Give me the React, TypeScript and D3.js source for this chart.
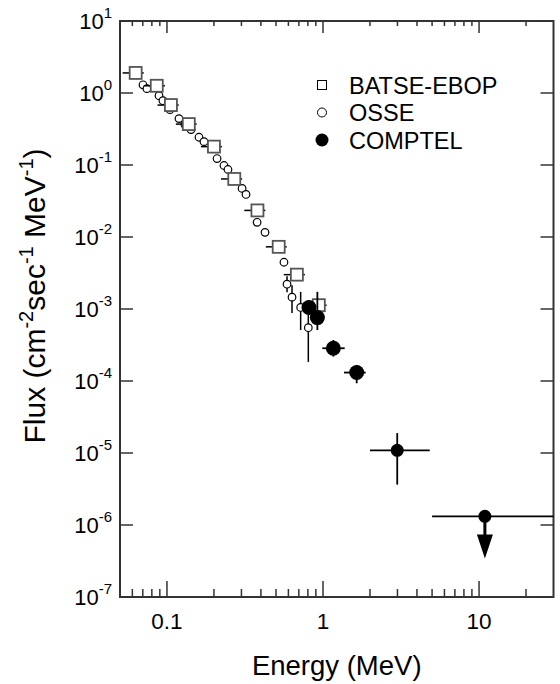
import React from 'react'
import * as d3 from 'd3'

// BATSE-EBOP (open squares), energy in MeV, flux in cm^-2 s^-1 MeV^-1
const batseE = [0.063, 0.086, 0.106, 0.138, 0.2, 0.27, 0.38, 0.52, 0.68, 0.94]
const batseF = [1.9, 1.26, 0.68, 0.37, 0.18, 0.064, 0.0234, 0.0073, 0.003, 0.00113]
const batseELo = [0.052, 0.071, 0.087, 0.114, 0.165, 0.222, 0.313, 0.43, 0.56, 0.78]
const batseEHi = [0.071, 0.097, 0.119, 0.155, 0.225, 0.303, 0.427, 0.585, 0.765, 1.055]

// OSSE (open circles)
const osseE = [0.0702, 0.0744, 0.0889, 0.0942, 0.1045, 0.1194, 0.1303, 0.1426, 0.1604, 0.1726, 0.2094,
    0.2319, 0.246, 0.303, 0.321, 0.378, 0.425, 0.562, 0.588, 0.633, 0.719, 0.805]
const osseF = [1.3, 1.15, 0.918, 0.782, 0.587, 0.441, 0.364, 0.31, 0.243, 0.211, 0.123,
    0.0984, 0.0866, 0.0473, 0.039, 0.016, 0.0116, 0.00446, 0.00221, 0.00146, 0.00105, 0.00055]
const osseFLo = [null, null, null, null, null, null, null, null, null, null, null,
    null, null, null, null, null, null, null, 0.00171, 0.000877, 0.00051, 0.000184]
const osseFHi = [null, null, null, null, null, null, null, null, null, null, null,
    null, null, null, null, null, null, null, 0.00286, 0.00214, 0.00173, 0.00133]

// COMPTEL (filled circles), last one is an upper limit
const comptelE = [0.813, 0.92, 1.165, 1.644, 2.99, 10.9]
const comptelF = [0.00105, 0.00076, 0.000285, 0.000131, 1.09e-5, 1.32e-6]
const comptelELo = [null, null, 0.99, 1.363, 2.0, 5.0]
const comptelEHi = [null, null, 1.377, 1.877, 4.83, 30]
const comptelFLo = [null, 0.00051, 0.000218, 9.3e-5, 3.64e-6, null]
const comptelFHi = [null, 0.00173, 0.000371, 0.000167, 1.89e-5, null]
const comptelUpperTip = [null, null, null, null, null, 3.43e-7]

const xTickValues = [0.1, 1, 10]
const xTickLabels = ['0.1', '1', '10']
const yExponents = [1, 0, -1, -2, -3, -4, -5, -6, -7]

const legendItems = ['BATSE-EBOP', 'OSSE', 'COMPTEL']

const FONT = 'Liberation Sans, Arial, Helvetica, sans-serif'
const AXIS = '#333'

export default function App() {
    const left = 120, right = 553.5, top = 21, bottom = 597
    const x = d3.scaleLog().domain([0.05, 30]).range([left, right])
    const y = d3.scaleLog().domain([1e-7, 10]).range([bottom, top])

    const minorX = x.ticks().filter(t => !xTickValues.some(m => Math.abs(m - t) < 1e-9) && t > 0.0501 && t < 29.9)

    return (
        <svg width={560} height={684} style={{ position: 'absolute', left: 0, top: 0, background: '#fff' }}
            fontFamily={FONT}>
            <rect x={0} y={0} width={560} height={684} fill="#fff" />

            {/* frame */}
            <rect x={left} y={top} width={right - left} height={bottom - top} fill="none" stroke={AXIS} strokeWidth={2} />

            {/* x ticks, bottom and top */}
            {xTickValues.map(t => (
                <g key={'xm' + t}>
                    <line x1={x(t)} x2={x(t)} y1={bottom} y2={bottom - 16} stroke={AXIS} strokeWidth={1.5} />
                    <line x1={x(t)} x2={x(t)} y1={top} y2={top + 12} stroke={AXIS} strokeWidth={1.5} />
                </g>
            ))}
            {minorX.map(t => (
                <g key={'xn' + t}>
                    <line x1={x(t)} x2={x(t)} y1={bottom} y2={bottom - 8} stroke={AXIS} strokeWidth={1.5} />
                    <line x1={x(t)} x2={x(t)} y1={top} y2={top + 5} stroke={AXIS} strokeWidth={1.5} />
                </g>
            ))}
            {xTickValues.map((t, i) => (
                <text key={'xl' + t} x={x(t)} y={628.5} textAnchor="middle" fontSize={22.5} fill="#000">{xTickLabels[i]}</text>
            ))}

            {/* y ticks, left and right */}
            {yExponents.map(e => {
                const yy = y(Math.pow(10, e))
                return (
                    <g key={'y' + e}>
                        <line x1={left} x2={left + 13} y1={yy} y2={yy} stroke={AXIS} strokeWidth={1.5} />
                        <line x1={right} x2={right - 13} y1={yy} y2={yy} stroke={AXIS} strokeWidth={1.5} />
                        <text x={112} y={yy + 7.5} textAnchor="end" fontSize={22} fill="#000">
                            10<tspan dy={-11} fontSize={15}>{e}</tspan>
                        </text>
                    </g>
                )
            })}

            {/* axis titles */}
            <text x={(left + right) / 2} y={675} textAnchor="middle" fontSize={27.5} fill="#000">Energy (MeV)</text>
            <text transform={`translate(45,296) rotate(-90)`} textAnchor="middle" fontSize={30} fill="#000">
                Flux (cm<tspan dy={-12} fontSize={20}>-2</tspan>
                <tspan dy={12}>sec</tspan><tspan dy={-12} fontSize={20}>-1</tspan>
                <tspan dy={12}> MeV</tspan><tspan dy={-12} fontSize={20}>-1</tspan>
                <tspan dy={12}>)</tspan>
            </text>

            {/* OSSE */}
            {osseE.map((e, i) => osseFLo[i] != null ? (
                <line key={'oe' + i} x1={x(e)} x2={x(e)} y1={y(osseFLo[i] as number)} y2={y(osseFHi[i] as number)}
                    stroke="#000" strokeWidth={1.5} />
            ) : null)}
            {osseE.map((e, i) => (
                <circle key={'o' + i} cx={x(e)} cy={y(osseF[i])} r={3.8} fill="#fff" stroke="#000" strokeWidth={1.2} />
            ))}

            {/* BATSE */}
            {batseE.map((e, i) => (
                <line key={'be' + i} x1={x(batseELo[i])} x2={x(batseEHi[i])} y1={y(batseF[i])} y2={y(batseF[i])}
                    stroke="#000" strokeWidth={1.5} />
            ))}
            {batseE.map((e, i) => (
                <rect key={'b' + i} x={x(e) - 6} y={y(batseF[i]) - 6} width={12} height={12}
                    fill="#fff" stroke="#555" strokeWidth={1.8} />
            ))}

            {/* COMPTEL */}
            {comptelE.map((e, i) => (
                <g key={'ce' + i} stroke="#000" strokeWidth={1.8}>
                    {comptelELo[i] != null && (
                        <line x1={x(comptelELo[i] as number)} x2={x(comptelEHi[i] as number)} y1={y(comptelF[i])} y2={y(comptelF[i])} />
                    )}
                    {comptelFLo[i] != null && (
                        <line x1={x(e)} x2={x(e)} y1={y(comptelFLo[i] as number)} y2={y(comptelFHi[i] as number)} />
                    )}
                    {comptelUpperTip[i] != null && (() => {
                        const tipY = y(comptelUpperTip[i] as number)
                        const cx = x(e)
                        return (
                            <g>
                                <line x1={cx} x2={cx} y1={y(comptelF[i])} y2={tipY - 20} strokeWidth={3} />
                                <path d={`M${cx - 8},${tipY - 24}L${cx + 8},${tipY - 24}L${cx},${tipY}Z`} fill="#000" stroke="none" />
                            </g>
                        )
                    })()}
                </g>
            ))}
            {comptelE.map((e, i) => (
                <circle key={'c' + i} cx={x(e)} cy={y(comptelF[i])} r={i < 4 ? 7.5 : 6.5} fill="#000" />
            ))}

            {/* legend */}
            {legendItems.map((name, i) => {
                const ly = 85 + i * 27.5
                return (
                    <g key={name}>
                        {i === 0 && <rect x={317.5} y={ly - 4.5} width={9} height={9} fill="#fff" stroke="#000" strokeWidth={1} />}
                        {i === 1 && <circle cx={322} cy={ly} r={4.5} fill="#fff" stroke="#000" strokeWidth={1} />}
                        {i === 2 && <circle cx={322} cy={ly} r={6.5} fill="#000" />}
                        <text x={349} y={ly + 8.5} fontSize={23.5} fill="#000">{name}</text>
                    </g>
                )
            })}
        </svg>
    )
}
